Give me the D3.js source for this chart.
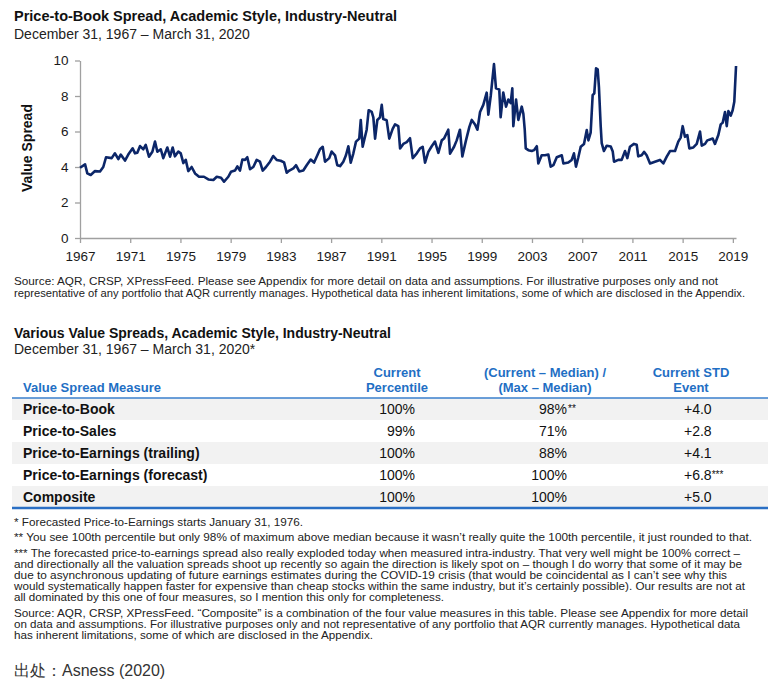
<!DOCTYPE html>
<html>
<head>
<meta charset="utf-8">
<title>Price-to-Book Spread</title>
<script src="https://d3js.org/d3.v7.min.js"></script>
<style>
  body { margin: 0; background: #fff; }
  svg text { font-family: "Liberation Sans", Arial, sans-serif; }
</style>
</head>
<body>
<svg id="chart" width="776" height="693"></svg>
<script>
// value spread: [decimal year, spread]
const spread = [
  [1967.92,3.96],[1968.32,4.15],[1968.50,3.64],[1968.77,3.55],[1969.11,3.77],[1969.51,3.75],[1969.77,4.0],
  [1969.99,4.55],[1970.44,4.5],[1970.70,4.77],[1970.97,4.45],[1971.16,4.7],[1971.50,4.36],[1971.76,4.7],
  [1972.11,5.05],[1972.30,4.77],[1972.48,4.8],[1972.70,5.18],[1972.96,5.0],[1973.15,5.25],[1973.41,4.58],
  [1973.68,4.86],[1973.89,5.43],[1974.08,4.86],[1974.35,5.0],[1974.55,4.5],[1974.87,5.1],[1975.09,4.58],
  [1975.30,5.1],[1975.48,4.6],[1975.75,4.87],[1975.94,4.77],[1976.15,4.22],[1976.34,4.4],[1976.54,3.77],
  [1976.81,4.0],[1977.08,3.64],[1977.40,3.45],[1977.79,3.45],[1978.14,3.3],[1978.54,3.27],[1978.81,3.45],
  [1979.15,3.4],[1979.39,3.17],[1979.73,3.45],[1979.94,3.73],[1980.26,3.8],[1980.45,4.03],[1980.66,3.8],
  [1980.85,4.42],[1981.06,4.4],[1981.24,4.55],[1981.46,3.88],[1981.72,4.0],[1981.99,4.4],[1982.25,4.3],
  [1982.47,3.8],[1982.73,4.0],[1983.05,4.3],[1983.31,4.62],[1983.58,4.4],[1983.90,4.35],[1984.17,4.26],
  [1984.38,3.68],[1984.59,3.8],[1984.91,3.92],[1985.12,4.1],[1985.38,3.75],[1985.70,3.8],[1985.97,4.1],
  [1986.29,4.42],[1986.56,4.25],[1986.82,4.66],[1987.03,5.0],[1987.25,5.14],[1987.43,4.3],[1987.77,4.5],
  [1987.96,4.87],[1988.23,4.66],[1988.41,4.1],[1988.63,4.05],[1988.89,4.3],[1989.10,4.66],[1989.29,5.17],
  [1989.48,4.24],[1989.69,4.77],[1989.90,5.43],[1990.16,5.6],[1990.28,6.65],[1990.43,5.15],[1990.75,6.1],
  [1990.91,7.2],[1991.15,7.1],[1991.28,6.8],[1991.42,5.6],[1991.60,6.65],[1991.81,6.8],[1991.95,7.5],
  [1992.07,6.7],[1992.34,6.64],[1992.55,5.6],[1992.82,6.15],[1993.01,6.4],[1993.27,6.3],[1993.41,5.05],
  [1993.67,5.3],[1993.94,5.4],[1994.20,5.62],[1994.42,4.5],[1994.74,4.77],[1995.00,5.05],[1995.21,5.14],
  [1995.40,4.24],[1995.66,4.85],[1995.93,5.17],[1996.19,5.43],[1996.46,4.8],[1996.73,5.5],[1996.91,5.6],
  [1997.25,6.1],[1997.39,4.75],[1997.71,5.14],[1997.92,5.5],[1998.18,6.1],[1998.37,4.6],[1998.66,5.5],
  [1998.93,6.26],[1999.12,6.65],[1999.38,6.4],[1999.57,6.1],[1999.78,7.1],[2000.04,7.5],[2000.31,8.19],
  [2000.44,6.95],[2000.63,8.0],[2000.89,9.8],[2001.05,8.43],[2001.31,8.37],[2001.42,6.8],[2001.63,8.2],
  [2001.85,7.4],[2002.03,7.8],[2002.22,7.6],[2002.35,8.43],[2002.43,6.3],[2002.65,7.8],[2002.83,6.65],
  [2003.10,7.4],[2003.23,7.0],[2003.34,6.1],[2003.42,5.05],[2003.63,4.95],[2003.90,4.9],[2004.08,4.95],
  [2004.30,5.17],[2004.42,4.2],[2004.69,4.66],[2004.95,4.66],[2005.22,4.7],[2005.41,4.02],[2005.62,4.1],
  [2005.89,4.55],[2006.29,4.66],[2006.42,4.2],[2006.81,4.25],[2007.08,4.4],[2007.26,4.77],[2007.42,4.02],
  [2007.61,4.55],[2007.80,5.14],[2008.06,5.3],[2008.28,6.08],[2008.41,5.5],[2008.59,5.93],[2008.75,8.05],
  [2008.88,8.15],[2009.02,9.56],[2009.15,9.5],[2009.25,8.5],[2009.39,6.3],[2009.47,5.35],[2009.65,4.9],
  [2009.87,5.2],[2010.19,5.15],[2010.35,4.87],[2010.45,4.3],[2010.79,4.4],[2011.06,4.4],[2011.33,4.9],
  [2011.51,4.5],[2011.72,5.14],[2012.04,5.3],[2012.26,5.25],[2012.38,4.6],[2012.65,4.66],[2012.84,4.85],
  [2013.05,4.66],[2013.32,4.2],[2013.71,4.3],[2014.11,4.4],[2014.38,4.2],[2014.65,4.58],[2014.91,4.9],
  [2015.31,4.9],[2015.57,5.43],[2015.76,5.66],[2015.92,6.3],[2016.10,5.7],[2016.29,5.8],[2016.45,5.05],
  [2016.77,5.1],[2017.04,5.3],[2017.30,6.0],[2017.44,5.2],[2017.70,5.3],[2017.88,5.5],[2018.10,5.55],
  [2018.31,5.6],[2018.49,5.3],[2018.76,5.8],[2018.95,6.4],[2019.11,6.5],[2019.29,7.1],[2019.43,6.3],
  [2019.56,7.15],[2019.75,6.9],[2019.90,7.2],[2020.03,7.67],[2020.17,9.69]
];
const xTickYears = [1967,1971,1975,1979,1983,1987,1991,1995,1999,2003,2007,2011,2015,2019];
const yTicks = [0,2,4,6,8,10];

// table
const measures = ["Price-to-Book","Price-to-Sales","Price-to-Earnings (trailing)","Price-to-Earnings (forecast)","Composite"];
const percentile = ["100%","99%","100%","100%","100%"];
const relToMax = ["98%","71%","88%","100%","100%"];
const relToMaxNote = ["**","","","",""];
const stdEvent = ["+4.0","+2.8","+4.1","+6.8","+5.0"];
const stdEventNote = ["","","","***",""];

const chartSource = [
  ["Source: AQR, CRSP, XPressFeed. Please see Appendix for more detail on data and assumptions. For illustrative purposes only and not", 704],
  ["representative of any portfolio that AQR currently manages. Hypothetical data has inherent limitations, some of which are disclosed in the Appendix.", 731]
];
const footnotes = [
  ["* Forecasted Price-to-Earnings starts January 31, 1976.", 289, 522],
  ["** You see 100th percentile but only 98% of maximum above median because it wasn\u2019t really quite the 100th percentile, it just rounded to that.", 738, 537],
  ["*** The forecasted price-to-earnings spread also really exploded today when measured intra-industry. That very well might be 100% correct \u2013", 726, 553],
  ["and directionally all the valuation spreads shoot up recently so again the direction is likely spot on \u2013 though I do worry that some of it may be", 728, 564],
  ["due to asynchronous updating of future earnings estimates during the COVID-19 crisis (that would be coincidental as I can\u2019t see why this", 713, 575],
  ["would systematically happen faster for expensive than cheap stocks within the same industry, but it\u2019s certainly possible). Our results are not at", 731, 586],
  ["all dominated by this one of four measures, so I mention this only for completeness.", 430, 597],
  ["Source: AQR, CRSP, XPressFeed. \u201cComposite\u201d is a combination of the four value measures in this table. Please see Appendix for more detail", 734, 613],
  ["on data and assumptions. For illustrative purposes only and not representative of any portfolio that AQR currently manages. Hypothetical data", 726, 624],
  ["has inherent limitations, some of which are disclosed in the Appendix.", 359, 635]
];

const svg = d3.select("#chart");
const navy = "#0c2668", blue = "#1f6fc4";

// titles
svg.append("text").attr("x", 14).attr("y", 21).attr("font-size", 14.5).attr("font-weight", "bold")
   .attr("fill", "#111").text("Price-to-Book Spread, Academic Style, Industry-Neutral");
svg.append("text").attr("x", 14).attr("y", 39).attr("font-size", 14).attr("fill", "#222")
   .text("December 31, 1967 \u2013 March 31, 2020");

// line chart
const x = d3.scaleLinear().domain([1967 + 11/12, 2020 + 2/12]).range([80, 736]);
const y = d3.scaleLinear().domain([0, 10]).range([238, 60.5]);

const gx = svg.append("g").attr("transform", "translate(0,238)")
   .call(d3.axisBottom(x).tickValues(xTickYears.map(v => v + 11/12)).tickFormat(v => Math.floor(v))
         .tickSize(5).tickSizeOuter(0));
const gy = svg.append("g").attr("transform", "translate(80,0)")
   .call(d3.axisLeft(y).tickValues(yTicks).tickSize(5).tickSizeOuter(0));
[gx, gy].forEach(g => {
  g.select(".domain").attr("stroke", "#a0a0a0").attr("stroke-width", 1.3);
  g.selectAll(".tick line").attr("stroke", "#a0a0a0").attr("stroke-width", 1.3);
  g.selectAll(".tick text").attr("font-size", 13.5).attr("fill", "#1a1a1a")
   .attr("font-family", "Liberation Sans, Arial, sans-serif");
});
gx.selectAll(".tick text").attr("dy", "1.1em");
gy.selectAll(".tick text").attr("dx", "-0.25em");

svg.append("text").attr("transform", "translate(32,148) rotate(-90)").attr("text-anchor", "middle")
   .attr("font-size", 14).attr("font-weight", "bold").attr("fill", "#111").text("Value Spread");

svg.append("path").datum(spread)
   .attr("fill", "none").attr("stroke", navy).attr("stroke-width", 2.6).attr("stroke-linejoin", "round")
   .attr("d", d3.line().x(d => x(d[0])).y(d => y(d[1])));

svg.selectAll("text.src").data(chartSource).join("text").attr("class", "src")
   .attr("x", 14).attr("y", (d, i) => 285 + i * 12).attr("font-size", 11).attr("fill", "#222")
   .attr("textLength", d => d[1]).attr("lengthAdjust", "spacingAndGlyphs").text(d => d[0]);

// table
svg.append("text").attr("x", 14).attr("y", 338).attr("font-size", 14).attr("font-weight", "bold")
   .attr("fill", "#111").text("Various Value Spreads, Academic Style, Industry-Neutral");
svg.append("text").attr("x", 14).attr("y", 354).attr("font-size", 14).attr("fill", "#222")
   .text("December 31, 1967 \u2013 March 31, 2020*");

const rowY = d3.scaleBand().domain(measures).range([398, 508]);

svg.selectAll("rect.row").data(measures).join("rect").attr("class", "row")
   .attr("x", 12).attr("width", 756).attr("y", d => rowY(d)).attr("height", rowY.bandwidth())
   .attr("fill", (d, i) => i % 2 === 0 ? "#f2f2f2" : "#fff");

const header = [
  { lines: ["Value Spread Measure"], x: 23, anchor: "start" },
  { lines: ["Current", "Percentile"], x: 397, anchor: "middle" },
  { lines: ["(Current \u2013 Median) /", "(Max \u2013 Median)"], x: 545, anchor: "middle" },
  { lines: ["Current STD", "Event"], x: 691, anchor: "middle" }
];
header.forEach(h => {
  h.lines.forEach((l, i) => {
    svg.append("text").attr("x", h.x).attr("y", 392 - (h.lines.length - 1 - i) * 15)
       .attr("text-anchor", h.anchor).attr("font-size", 13).attr("font-weight", "bold")
       .attr("fill", blue).text(l);
  });
});
svg.append("line").attr("x1", 12).attr("x2", 768).attr("y1", 398).attr("y2", 398)
   .attr("stroke", "#3a7fcc").attr("stroke-width", 1.5);
svg.append("line").attr("x1", 12).attr("x2", 768).attr("y1", 508).attr("y2", 508)
   .attr("stroke", "#2a6fc4").attr("stroke-width", 2.5);

const rows = svg.selectAll("g.trow").data(measures).join("g").attr("class", "trow")
   .attr("transform", d => `translate(0,${rowY(d) + rowY.bandwidth() / 2 + 5})`);
rows.append("text").attr("x", 23).attr("font-size", 14).attr("font-weight", "bold").attr("fill", "#111")
   .text(d => d);
rows.append("text").attr("x", 415).attr("text-anchor", "end").attr("font-size", 14).attr("fill", "#111")
   .text((d, i) => percentile[i]);
rows.append("text").attr("x", 567).attr("text-anchor", "end").attr("font-size", 14).attr("fill", "#111")
   .text((d, i) => relToMax[i]);
rows.append("text").attr("x", 568).attr("font-size", 10).attr("dy", -2).attr("fill", "#111")
   .text((d, i) => relToMaxNote[i]);
rows.append("text").attr("x", 684).attr("font-size", 14).attr("fill", "#111")
   .text((d, i) => stdEvent[i])
   .append("tspan").attr("font-size", 10).attr("dy", -2).text((d, i) => stdEventNote[i]);

svg.selectAll("text.fn").data(footnotes).join("text").attr("class", "fn")
   .attr("x", 14).attr("y", d => d[2] + 4).attr("font-size", 11).attr("fill", "#222")
   .attr("textLength", d => d[1]).attr("lengthAdjust", "spacingAndGlyphs").text(d => d[0]);

svg.append("text").attr("x", 14).attr("y", 676).attr("font-size", 16).attr("fill", "#333")
   .attr("font-family", "Noto Sans CJK SC, sans-serif")
   .text("出处：").append("tspan").attr("font-family", "Liberation Sans, Arial, sans-serif")
   .text("Asness (2020)");
</script>
</body>
</html>
